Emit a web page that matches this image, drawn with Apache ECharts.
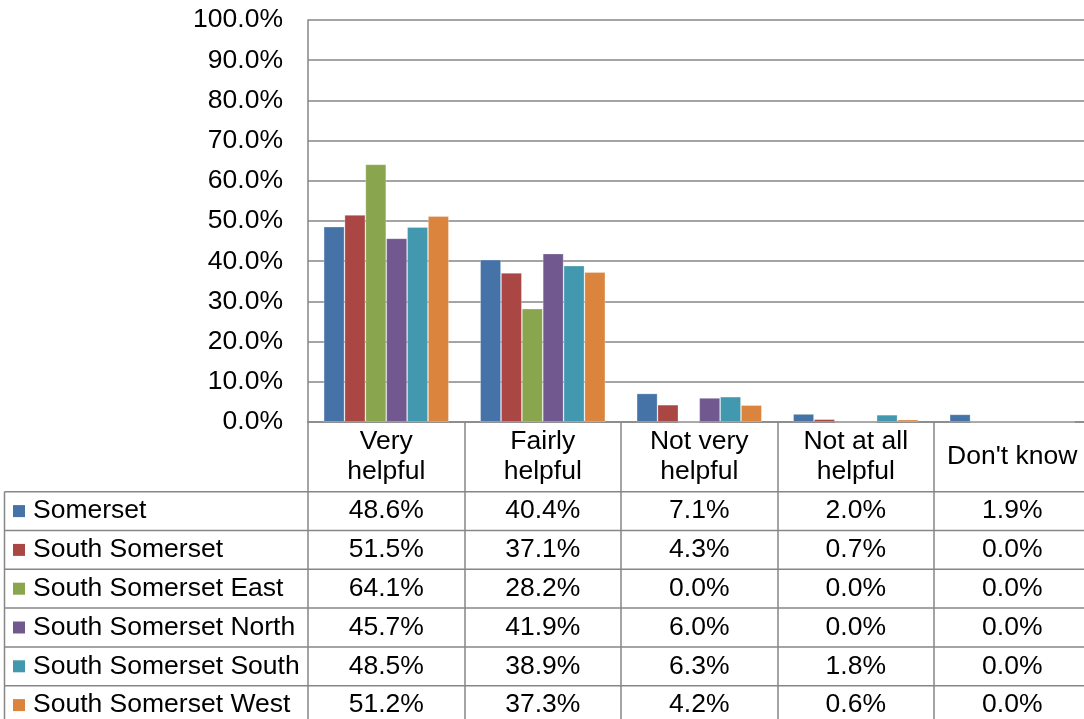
<!DOCTYPE html>
<html>
<head>
<meta charset="utf-8">
<script src="https://cdn.jsdelivr.net/npm/echarts@6/dist/echarts.min.js"></script>
<style>
  html, body { margin: 0; padding: 0; background: #ffffff; overflow: hidden; }
  /* the table and plot run slightly past the right edge of the page */
  #chart { width: 1110px; height: 719px; }
</style>
</head>
<body>
<div id="chart"></div>
<script>
// Categories (answers) and the share of respondents per area, in percent
const categories = ['Very\nhelpful', 'Fairly\nhelpful', 'Not very\nhelpful', 'Not at all\nhelpful', "Don't know"];
const seriesNames = ['Somerset', 'South Somerset', 'South Somerset East', 'South Somerset North', 'South Somerset South', 'South Somerset West'];
const somerset            = [48.6, 40.4, 7.1, 2.0, 1.9];
const southSomerset       = [51.5, 37.1, 4.3, 0.7, 0.0];
const southSomersetEast   = [64.1, 28.2, 0.0, 0.0, 0.0];
const southSomersetNorth  = [45.7, 41.9, 6.0, 0.0, 0.0];
const southSomersetSouth  = [48.5, 38.9, 6.3, 1.8, 0.0];
const southSomersetWest   = [51.2, 37.3, 4.2, 0.6, 0.0];
const seriesValues = [somerset, southSomerset, southSomersetEast, southSomersetNorth, southSomersetSouth, southSomersetWest];
const colors = ['#4572A7', '#AA4643', '#89A54E', '#71588F', '#4198AF', '#DB843D'];

// Layout of the plot and the data table beneath it
const FONT = '"Liberation Sans", Arial, sans-serif';
const FS = 26.5;
const GRID_LEFT = 308, GRID_TOP = 20, GRID_H = 402, COL_W = 156.5;
const HEADER_H = 69.7;
const ROW_H = 38.8;
const TABLE_LEFT = 4.5;
const LINE = '#868686';
const TABLE_TOP = GRID_TOP + GRID_H + HEADER_H;
const TABLE_BOTTOM = TABLE_TOP + ROW_H * seriesNames.length + 10;

const chart = echarts.init(document.getElementById('chart'), null, { renderer: 'canvas' });

chart.setOption({
  animation: false,
  backgroundColor: '#ffffff',
  textStyle: { fontFamily: FONT },
  grid: { left: GRID_LEFT, top: GRID_TOP, width: COL_W * categories.length, height: GRID_H, containLabel: false },
  xAxis: {
    type: 'category',
    data: categories,
    boundaryGap: true,
    axisLine: { show: true, lineStyle: { color: LINE, width: 1.5 } },
    axisTick: { show: true, interval: 0, length: TABLE_BOTTOM - (GRID_TOP + GRID_H), lineStyle: { color: LINE, width: 1.5 } },
    axisLabel: {
      interval: 0, margin: 35, fontSize: FS, lineHeight: 30, color: '#000000',
      fontFamily: FONT, verticalAlign: 'middle', align: 'center'
    },
    splitLine: { show: false }
  },
  yAxis: {
    type: 'value',
    min: 0, max: 100, interval: 10,
    axisLine: { show: true, lineStyle: { color: LINE, width: 1.5 } },
    axisTick: { show: false },
    axisLabel: { margin: 25, fontSize: FS, color: '#000000', fontFamily: FONT, formatter: v => v.toFixed(1) + '%' },
    splitLine: { show: true, lineStyle: { color: LINE, width: 1.5 } }
  },
  series: seriesNames.map((name, i) => ({
    name: name,
    type: 'bar',
    data: seriesValues[i],
    barGap: '0%',
    barCategoryGap: '20%',
    itemStyle: { color: colors[i], borderColor: 'rgba(255,255,255,0.35)', borderWidth: 0.8 }
  }))
});

// Data table: row rules, left border, legend keys, row names and values
const graphics = [];
for (let r = 0; r <= seriesNames.length; r++) {
  const y = TABLE_TOP + r * ROW_H;
  graphics.push({
    type: 'line', silent: true,
    shape: { x1: TABLE_LEFT, y1: y, x2: GRID_LEFT + COL_W * categories.length, y2: y },
    style: { stroke: LINE, lineWidth: 1.5 }
  });
}
graphics.push({
  type: 'line', silent: true,
  shape: { x1: TABLE_LEFT, y1: TABLE_TOP, x2: TABLE_LEFT, y2: TABLE_BOTTOM },
  style: { stroke: LINE, lineWidth: 1.5 }
});
seriesNames.forEach((name, r) => {
  const cy = TABLE_TOP + r * ROW_H + ROW_H / 2;
  graphics.push({
    type: 'rect', silent: true,
    shape: { x: 13, y: cy - 6, width: 12, height: 12 },
    style: { fill: colors[r] }
  });
  graphics.push({
    type: 'text', silent: true, x: 33, y: cy,
    style: { text: name, font: FS + 'px ' + FONT, fill: '#000000', align: 'left', verticalAlign: 'middle' }
  });
  seriesValues[r].forEach((v, c) => {
    const cx = chart.convertToPixel({ xAxisIndex: 0 }, c);
    graphics.push({
      type: 'text', silent: true, x: cx, y: cy,
      style: { text: v.toFixed(1) + '%', font: FS + 'px ' + FONT, fill: '#000000', align: 'center', verticalAlign: 'middle' }
    });
  });
});
chart.setOption({ graphic: graphics });
</script>
</body>
</html>
